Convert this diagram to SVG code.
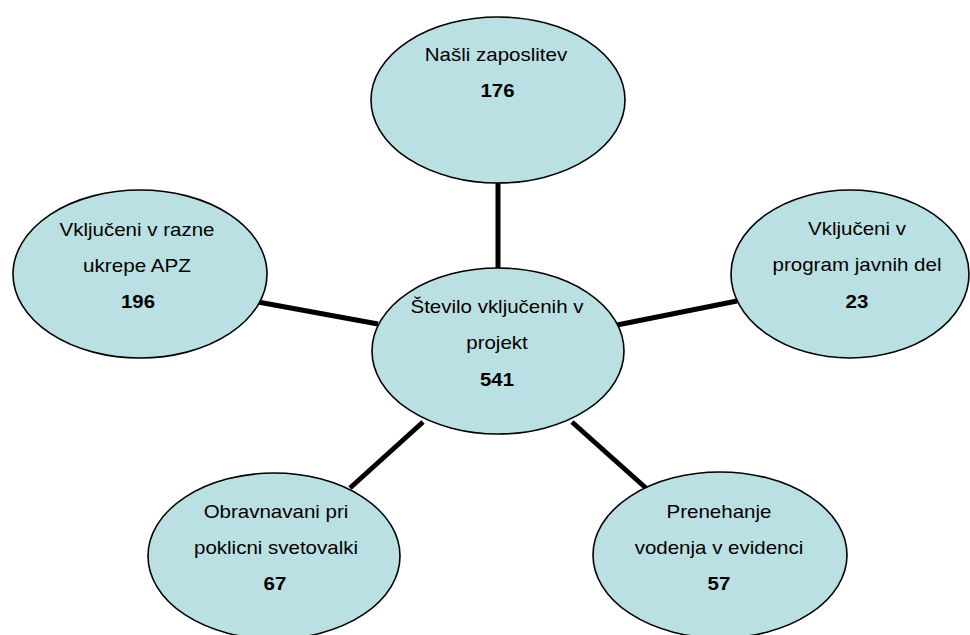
<svg xmlns="http://www.w3.org/2000/svg" width="970" height="635" viewBox="0 0 970 635">
<style>
.node ellipse{fill:#BBE0E3;stroke:#000;stroke-width:1.6}
.conn line{stroke:#000;stroke-width:5}
text{font-family:"Liberation Sans",Arial,sans-serif;font-size:19px;fill:#000;text-anchor:middle}
.b{font-weight:bold}
</style>
<rect width="970" height="635" fill="#fff"/>
<g id="connectors" class="conn">
<line x1="498" y1="183" x2="498" y2="268"/>
<line x1="258" y1="302" x2="378" y2="324"/>
<line x1="617" y1="325" x2="737" y2="301"/>
<line x1="423" y1="422" x2="350" y2="488"/>
<line x1="572" y1="422" x2="647" y2="489"/>
</g>
<g id="n-center" class="node">
<ellipse cx="498" cy="351" rx="126" ry="83"/>
<text x="497" y="313" textLength="173" lengthAdjust="spacingAndGlyphs">Število vključenih v</text>
<text x="497" y="349" textLength="61.5" lengthAdjust="spacingAndGlyphs">projekt</text>
<text class="b" x="497" y="386" textLength="34" lengthAdjust="spacingAndGlyphs">541</text>
</g>
<g id="n-top" class="node">
<ellipse cx="498" cy="100" rx="127" ry="83"/>
<text x="496" y="61" textLength="142.4" lengthAdjust="spacingAndGlyphs">Našli zaposlitev</text>
<text class="b" x="497.5" y="97" textLength="34" lengthAdjust="spacingAndGlyphs">176</text>
</g>
<g id="n-left" class="node">
<ellipse cx="140" cy="274" rx="127" ry="84"/>
<text x="137" y="236" textLength="155" lengthAdjust="spacingAndGlyphs">Vključeni v razne</text>
<text x="137" y="272" textLength="108" lengthAdjust="spacingAndGlyphs">ukrepe APZ</text>
<text class="b" x="138" y="308" textLength="34" lengthAdjust="spacingAndGlyphs">196</text>
</g>
<g id="n-right" class="node">
<ellipse cx="850" cy="274" rx="119" ry="84"/>
<text x="857" y="235" textLength="98" lengthAdjust="spacingAndGlyphs">Vključeni v</text>
<text x="857" y="271" textLength="169" lengthAdjust="spacingAndGlyphs">program javnih del</text>
<text class="b" x="857" y="308" textLength="22.8" lengthAdjust="spacingAndGlyphs">23</text>
</g>
<g id="n-bottom-left" class="node">
<ellipse cx="274" cy="556" rx="126" ry="83"/>
<text x="276" y="518" textLength="144.7" lengthAdjust="spacingAndGlyphs">Obravnavani pri</text>
<text x="276" y="554" textLength="164" lengthAdjust="spacingAndGlyphs">poklicni svetovalki</text>
<text class="b" x="275" y="590" textLength="22.8" lengthAdjust="spacingAndGlyphs">67</text>
</g>
<g id="n-bottom-right" class="node">
<ellipse cx="720" cy="555" rx="127" ry="83"/>
<text x="719" y="518" textLength="104.8" lengthAdjust="spacingAndGlyphs">Prenehanje</text>
<text x="719" y="554" textLength="168.6" lengthAdjust="spacingAndGlyphs">vodenja v evidenci</text>
<text class="b" x="719" y="590" textLength="22.8" lengthAdjust="spacingAndGlyphs">57</text>
</g>
</svg>
